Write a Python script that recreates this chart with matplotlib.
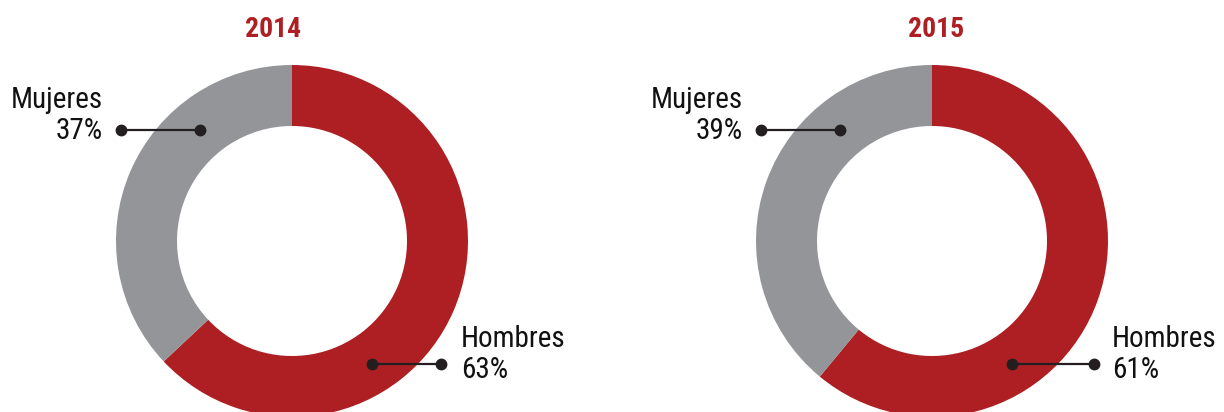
import matplotlib
matplotlib.use("Agg")
import matplotlib.pyplot as plt

years = ["2014", "2015"]
categories = ["Hombres", "Mujeres"]
hombres = [63, 61]
mujeres = [37, 39]

RED = "#AE1F24"
GRAY = "#939598"
DARK = "#231F20"
FONT = ["Roboto Condensed", "Archivo Narrow", "PT Sans Narrow",
        "Fira Sans Condensed", "DejaVu Sans"]

W, H = 1224, 412
fig = plt.figure(figsize=(W / 100, H / 100), dpi=100)
ax = fig.add_axes([0, 0, 1, 1])

def Y(y):
    return H - y

centers_x = [292, 932]
title_x = [273, 936]
cy = 241
R = 176
ring = 61
LS = 21

for i, yr in enumerate(years):
    cx = centers_x[i]
    ax.pie([hombres[i], mujeres[i]], colors=[RED, GRAY], startangle=90,
           counterclock=False, radius=R, center=(cx, Y(cy)),
           wedgeprops=dict(width=ring, linewidth=0), frame=True)
    ax.text(title_x[i], Y(37), yr, ha="center", va="baseline", color=RED,
            fontsize=20, fontweight="bold", family=FONT)
    # Mujeres label
    mx_r = cx - 189
    ax.text(mx_r, Y(108), categories[1], ha="right", va="baseline",
            fontsize=LS, color="#111111", family=FONT)
    ax.text(mx_r, Y(139), f"{mujeres[i]}%", ha="right", va="baseline",
            fontsize=LS, color="#111111", family=FONT)
    ax.plot([cx - 171, cx - 92], [Y(130), Y(130)], color=DARK, lw=1.6,
            marker="o", markersize=7.5, solid_capstyle="butt")
    # Hombres label
    hx = cx + 169 if i == 0 else cx + 180
    ax.text(hx, Y(347), categories[0], ha="left", va="baseline",
            fontsize=LS, color="#111111", family=FONT)
    ax.text(hx, Y(378), f"{hombres[i]}%", ha="left", va="baseline",
            fontsize=LS, color="#111111", family=FONT)
    lx0 = cx + 80
    lx1 = cx + 149 if i == 0 else cx + 162
    ax.plot([lx0, lx1], [Y(364), Y(364)], color=DARK, lw=1.6,
            marker="o", markersize=7.5, solid_capstyle="butt")

ax.set_xlim(0, W)
ax.set_ylim(0, H)
ax.set_aspect("equal")
ax.axis("off")
fig.savefig("out.png", dpi=100)
